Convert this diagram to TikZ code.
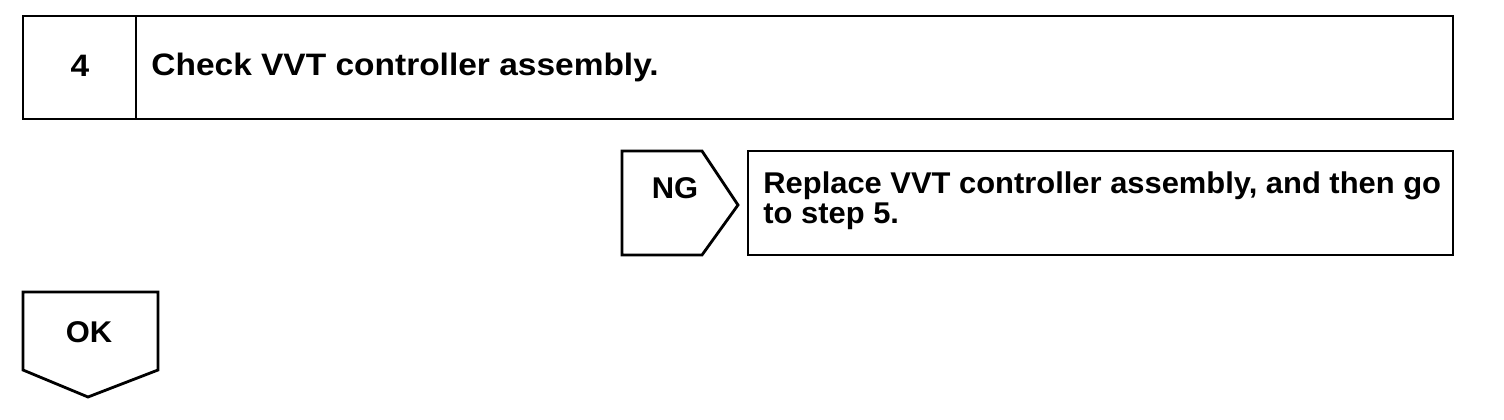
\documentclass[tikz,border=0pt]{standalone}
\usepackage{fontspec}
\setmainfont{Liberation Sans}
\newfontfamily\stepfont[FakeStretch=1.08]{Liberation Sans}
\newfontfamily\branchfont[FakeStretch=1.03]{Liberation Sans}
\usetikzlibrary{calc}

\tikzset{
  lbl/.style={font=\branchfont\bfseries\fontsize{30}{30}\selectfont, inner sep=0pt},
  toplbl/.style={font=\stepfont\bfseries\fontsize{31}{31}\selectfont, inner sep=0pt},
}

\begin{document}
\begin{tikzpicture}[x=1pt, y=-1pt, line width=2.8pt]
		\useasboundingbox (0,0) rectangle (1504,420);
		% step box
		\coordinate (S1) at (23,16);
		\coordinate (S2) at (1453,119);
		\draw (S1) rectangle (S2);
		\draw (136,16) -- (136,119);
		\node [toplbl, anchor=base] (num) at (80,77) {4};
		\node [toplbl, anchor=base west] (check) at (150,76) {Check VVT controller assembly.};
		% NG branch
		\draw (622,151) -- (702,151) -- (738,205) -- (702,255) -- (622,255) -- cycle;
		\node [lbl, anchor=base] (ng) at (675,198) {NG};
		\draw (748,151) rectangle (1453,255);
		\node [lbl, anchor=base west, align=left] (repl) at (762,223) {Replace VVT controller assembly, and then go\\to step 5.};
		% OK branch
		\draw (23,292) -- (158,292) -- (158,370) -- (88,397) -- (23,370) -- cycle;
		\node [lbl, anchor=base] (ok) at (89,342) {OK};
		\end{tikzpicture}
\end{document}
